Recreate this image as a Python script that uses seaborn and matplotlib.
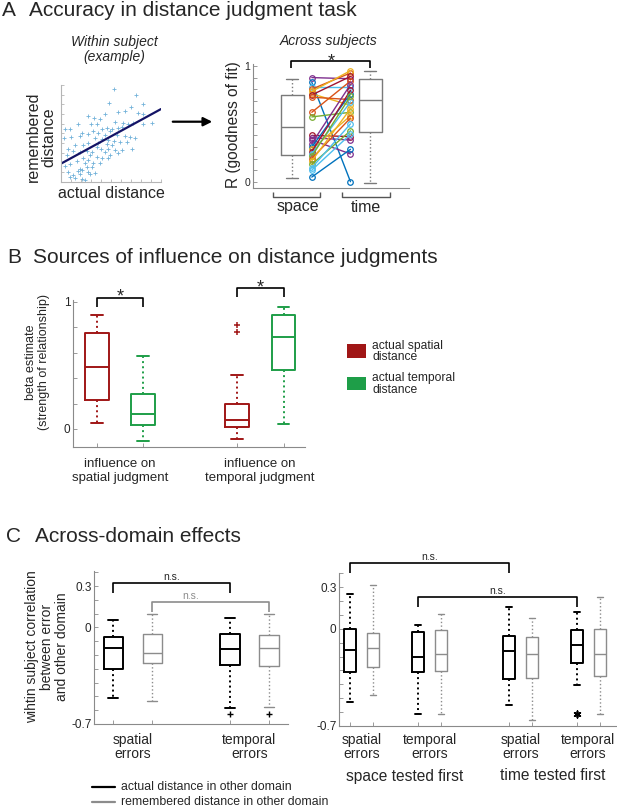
import numpy as np
import pandas as pd
import matplotlib
matplotlib.use("Agg")
import matplotlib.pyplot as plt
import seaborn as sns
from matplotlib.patches import Rectangle
from matplotlib.lines import Line2D
from matplotlib.colors import to_hex

# ---------------- data ----------------
# A, within subject example: actual vs remembered distance (one subject)
actual_dist = [5.3, 7.5, 4.8, 8.2, 7.0, 5.7, 6.4, 7.7, 8.2, 4.4, 2.7, 3.3,
               3.9, 5.4, 6.2, 6.7, 7.2, 9.1, 8.2, 1.7, 3.0, 3.6, 0.9, 0.4,
               4.6, 5.1, 5.7, 6.1, 4.1, 3.2, 2.1, 2.7, 3.7, 4.4, 4.9, 5.6,
               6.4, 6.9, 7.4, 0.3, 1.0, 1.9, 3.4, 4.1, 4.7, 5.3, 5.9, 6.6,
               3.7, 2.7, 1.4, 2.2, 4.6, 5.1, 3.6, 4.0, 4.7, 5.4, 6.1, 7.1,
               0.7, 1.2, 1.9, 2.6, 3.1, 4.4, 4.9, 5.7, 2.9, 3.6, 4.1, 4.7,
               0.6, 2.2, 2.7, 1.6, 3.2, 3.9, 2.4, 0.9, 0.4, 2.6, 1.9, 3.1,
               0.7, 1.2, 2.1, 2.7, 3.4, 1.7, 1.9, 2.9, 0.9, 1.4, 2.1, 2.4]
remembered_dist = [9.6, 9.0, 8.1, 8.0, 7.7, 7.2, 7.3, 7.1, 7.0, 7.0, 6.8, 6.6,
                   6.5, 6.2, 6.1, 6.0, 6.1, 6.1, 6.0, 6.0, 6.0, 6.0, 5.5, 5.4,
                   5.6, 5.4, 5.6, 5.7, 5.5, 5.2, 5.0, 4.9, 5.0, 4.8, 5.2, 4.8,
                   4.7, 4.6, 4.5, 4.5, 4.6, 4.7, 4.5, 4.4, 4.3, 4.2, 4.1, 4.1,
                   4.0, 4.0, 3.8, 3.8, 3.9, 3.8, 3.6, 3.4, 3.4, 3.3, 3.3, 3.4,
                   3.4, 3.2, 3.1, 3.2, 3.1, 3.1, 2.8, 3.0, 2.8, 2.6, 2.4, 2.4,
                   2.8, 2.4, 2.2, 2.1, 1.9, 1.9, 1.9, 1.8, 1.6, 1.5, 1.3, 1.5,
                   1.0, 0.7, 1.2, 1.0, 0.9, 1.1, 0.8, 0.8, 0.5, 0.4, 0.3, 0.2]

# A, across subjects: R per subject for space and time
r_space = [0.90, 0.86, 0.82, 0.80, 0.78, 0.76, 0.75, 0.73, 0.60, 0.56, 0.40, 0.38, 0.36,
           0.33, 0.30, 0.28, 0.26, 0.24, 0.22, 0.20, 0.18, 0.15, 0.12, 0.10, 0.04]
r_time = [0.89, 0.00, 0.82, 0.94, 0.96, 0.66, 0.91, 0.71, 0.87, 0.60, 0.39, 0.36, 0.24,
          0.84, 0.76, 0.57, 0.79, 0.69, 0.74, 0.55, 0.63, 0.44, 0.50, 0.41, 0.28]
subject_colors = ["#7E2F8E", "#0072BD", "#4DBEEE", "#D95319", "#EDB120", "#EDB120",
                  "#A2142F", "#D95319", "#D95319", "#77AC30", "#A2142F", "#7E2F8E",
                  "#7E2F8E", "#7E2F8E", "#0072BD", "#EDB120", "#A2142F", "#4DBEEE",
                  "#77AC30", "#D95319", "#EDB120", "#77AC30", "#4DBEEE", "#4DBEEE",
                  "#0072BD"]
# box summaries: [lower whisker, q1, median, q3, upper whisker]
r_box_space = [0.03, 0.23, 0.47, 0.75, 0.89]
r_box_time = [-0.01, 0.43, 0.71, 0.89, 0.96]

# B, beta estimates
beta_spatial_on_spatial = [0.045, 0.228, 0.49, 0.751, 0.893]
beta_temporal_on_spatial = [-0.092, 0.031, 0.115, 0.272, 0.571]
beta_spatial_on_temporal = [-0.079, 0.013, 0.068, 0.196, 0.421]
beta_temporal_on_temporal = [0.042, 0.461, 0.72, 0.893, 0.96]
beta_outliers_spatial_on_temporal = [0.814, 0.759]

# C left, across-domain correlations
c_spatial_actual = [-0.511, -0.298, -0.148, -0.07, 0.053]
c_spatial_remembered = [-0.535, -0.261, -0.184, -0.044, 0.097]
c_temporal_actual = [-0.586, -0.269, -0.155, -0.051, 0.07]
c_temporal_remembered = [-0.579, -0.278, -0.148, -0.058, 0.097]
c_outliers_temporal_actual = [-0.63]
c_outliers_temporal_remembered = [-0.625]

# C right, split by test order
c_sf_spatial_actual = [-0.53, -0.31, -0.151, -0.003, 0.248]
c_sf_spatial_remembered = [-0.477, -0.276, -0.135, -0.029, 0.318]
c_sf_temporal_actual = [-0.615, -0.309, -0.203, -0.02, 0.026]
c_sf_temporal_remembered = [-0.61, -0.303, -0.179, -0.012, 0.106]
c_tf_spatial_actual = [-0.548, -0.364, -0.162, -0.05, 0.156]
c_tf_spatial_remembered = [-0.655, -0.354, -0.179, -0.056, 0.077]
c_tf_temporal_actual = [-0.403, -0.248, -0.117, -0.008, 0.118]
c_tf_temporal_remembered = [-0.616, -0.34, -0.181, 0.0, 0.226]
c_outliers_tf_temporal_actual = [-0.615]

RED = "#a01616"
GREEN = "#1e9e48"
BOXGRAY = "#7a7a7a"
CGRAY = "#8c8c8c"
AXGRAY = "#8a8a8a"

W, H = 617, 807


def box_px(x0, y0, x1, y1):
    return [x0 / W, 1 - y1 / H, (x1 - x0) / W, (y1 - y0) / H]


def fpos(x, y):
    return x / W, 1 - y / H


def draw_boxes(ax, positions, boxes, groups, palette, width, lw=1.3):
    rows = [(p, v, g) for p, b, g in zip(positions, boxes, groups) for v in b]
    df = pd.DataFrame(rows, columns=["pos", "value", "group"])
    sns.boxplot(data=df, x="pos", y="value", hue="group", palette=palette,
                native_scale=True, orient="x", dodge=False, width=width,
                whis=(0, 100), fill=False, saturation=1, linewidth=lw,
                whiskerprops={"linestyle": ":"}, legend=False, ax=ax)


def style_axes(ax, labelsize=8):
    sns.despine(ax=ax)
    for s in ["left", "bottom"]:
        ax.spines[s].set_color(AXGRAY)
        ax.spines[s].set_linewidth(0.8)
    ax.tick_params(direction="in", length=3, width=0.6, color=AXGRAY,
                   labelsize=labelsize, pad=2)
    ax.set_xlabel("")
    ax.set_ylabel("")


def bracket(ax, x0, x1, y_hi, y_lo, color="black", lw=1.2):
    ax.plot([x0, x0, x1, x1], [y_lo, y_hi, y_hi, y_lo], color=color, lw=lw,
            clip_on=False, solid_capstyle="butt")


sns.set_style("ticks")
plt.rcParams["font.family"] = ["Liberation Sans", "DejaVu Sans"]

fig = plt.figure(figsize=(W / 100, H / 100), dpi=100)
fig.patch.set_facecolor("white")

# ---------------- panel A ----------------
fig.text(*fpos(2, 16), "A", fontsize=15, va="baseline")
fig.text(*fpos(29, 16), "Accuracy in distance judgment task", fontsize=15, va="baseline")

ax_sc = fig.add_axes(box_px(61, 85, 161, 181.7))
ax_sc.set_xlim(0, 10)
ax_sc.set_ylim(0, 10)
sns.regplot(x=actual_dist, y=remembered_dist, ax=ax_sc, ci=None, truncate=False,
            marker="+", color="#4f9fd0",
            scatter_kws={"s": 5, "linewidths": 0.6, "alpha": 0.8},
            line_kws={"color": "#141466", "linewidth": 1.6})
ax_sc.set_xlim(0, 10)
ax_sc.set_ylim(0, 10)
style_axes(ax_sc)
ax_sc.spines["left"].set_color("#b5b5b5")
ax_sc.spines["bottom"].set_color("#b5b5b5")
ax_sc.set_xticks(np.arange(0, 11, 1))
ax_sc.set_yticks(np.arange(0, 11, 1))
ax_sc.tick_params(length=2, color="#b5b5b5", labelbottom=False, labelleft=False)

fig.text(*fpos(114, 42), "Within subject", fontsize=10, style="italic", ha="center", va="center")
fig.text(*fpos(114, 57), "(example)", fontsize=10, style="italic", ha="center", va="center")
fig.text(*fpos(41.5, 136.7), "remembered\ndistance", fontsize=11.5, rotation=90,
         ha="center", va="center", linespacing=1.05)
fig.text(*fpos(111.5, 194), "actual distance", fontsize=11.5, ha="center", va="center")

ax_sc.annotate("", xy=fpos(215, 121.7), xytext=fpos(170, 121.7),
               xycoords="figure fraction", textcoords="figure fraction",
               arrowprops=dict(arrowstyle="-|>", color="black", lw=1.6, mutation_scale=13))

ax_r = fig.add_axes(box_px(253.3, 63.7, 409.3, 187.7))
draw_boxes(ax_r, [0, 1], [r_box_space, r_box_time], ["space", "time"],
           {"space": BOXGRAY, "time": BOXGRAY}, width=0.3, lw=1.0)
pairs = pd.DataFrame({
    "subject": [f"s{i:02d}" for i in range(len(r_space))] * 2,
    "x": [0.25] * len(r_space) + [0.746] * len(r_time),
    "value": r_space + r_time,
})
sns.lineplot(data=pairs, x="x", y="value", hue="subject",
             palette=dict(zip(pairs["subject"][:len(r_space)], subject_colors)),
             estimator=None, sort=False, marker="o", markersize=4,
             markerfacecolor="none", linewidth=1.0, legend=False, ax=ax_r)
for line in ax_r.lines[-len(r_space):]:
    line.set_markeredgecolor(line.get_color())
    line.set_markeredgewidth(0.9)
ax_r.set_xlim(-0.5, 1.5)
ax_r.set_ylim(-0.052, 1.02)
style_axes(ax_r, labelsize=7.5)
ax_r.set_xticks([])
ax_r.set_yticks(np.round(np.arange(0, 1.01, 0.1), 1))
ax_r.set_yticklabels(["0"] + [""] * 9 + ["1"])
bracket(ax_r, -0.02, 1.0, 1.046, 0.98)
ax_r.text(0.5, 0.998, "*", fontsize=13, ha="center", va="baseline")
bracket(ax_r, -0.246, 0.353, -0.135, -0.086, color="#555555", lw=1.0)
bracket(ax_r, 0.631, 1.25, -0.135, -0.086, color="#555555", lw=1.0)
fig.text(*fpos(329, 41), "Across subjects", fontsize=10, style="italic", ha="center", va="center")
fig.text(*fpos(233.3, 125), "R (goodness of fit)", fontsize=11.2, rotation=90,
         ha="center", va="center")
fig.text(*fpos(298.3, 207), "space", fontsize=11.5, ha="center", va="center")
fig.text(*fpos(366, 208), "time", fontsize=11.5, ha="center", va="center")

# ---------------- panel B ----------------
fig.text(*fpos(7, 263.3), "B", fontsize=15, va="baseline")
fig.text(*fpos(33.3, 263.3), "Sources of influence on distance judgments", fontsize=15,
         va="baseline")

ax_b = fig.add_axes(box_px(73, 299.8, 305, 447.3))
draw_boxes(ax_b, [0, 1, 3, 4],
           [beta_spatial_on_spatial, beta_temporal_on_spatial,
            beta_spatial_on_temporal, beta_temporal_on_temporal],
           ["spatial", "temporal", "spatial", "temporal"],
           {"spatial": RED, "temporal": GREEN}, width=0.51, lw=1.4)
sns.scatterplot(x=[3] * len(beta_outliers_spatial_on_temporal),
                y=beta_outliers_spatial_on_temporal, marker="+", color=RED,
                s=18, linewidth=1.1, ax=ax_b)
ax_b.set_xlim(-0.507, 4.46)
ax_b.set_ylim(-0.144, 1.015)
style_axes(ax_b, labelsize=8.5)
ax_b.set_xticks([0, 1, 3, 4])
ax_b.set_xticklabels([])
ax_b.set_yticks(np.round(np.arange(0, 1.01, 0.2), 1))
ax_b.set_yticklabels(["0", "", "", "", "", "1"])
bracket(ax_b, 0, 1, 1.031, 0.961)
ax_b.text(0.5, 0.998, "*", fontsize=13, ha="center", va="baseline")
bracket(ax_b, 3, 4, 1.105, 1.035)
ax_b.text(3.5, 1.074, "*", fontsize=13, ha="center", va="baseline")

fig.text(*fpos(37.5, 362), "beta estimate\n(strength of relationship)", fontsize=9,
         rotation=90, ha="center", va="center", linespacing=1.2)
fig.text(*fpos(120, 471), "influence on\nspatial judgment", fontsize=9.5,
         ha="center", va="center", linespacing=1.2)
fig.text(*fpos(260, 471), "influence on\ntemporal judgment", fontsize=9.5,
         ha="center", va="center", linespacing=1.2)

fig.add_artist(Rectangle(fpos(347, 358), 19 / W, 14 / H, transform=fig.transFigure,
                         facecolor=RED, edgecolor="none"))
fig.add_artist(Rectangle(fpos(347, 390), 19 / W, 13 / H, transform=fig.transFigure,
                         facecolor=GREEN, edgecolor="none"))
fig.text(*fpos(372, 351.5), "actual spatial\ndistance", fontsize=8.7, va="center",
         linespacing=1.0)
fig.text(*fpos(372, 383.5), "actual temporal\ndistance", fontsize=8.7, va="center",
         linespacing=1.0)

# ---------------- panel C ----------------
fig.text(*fpos(6, 541.7), "C", fontsize=15, va="baseline")
fig.text(*fpos(35, 541.7), "Across-domain effects", fontsize=15, va="baseline")

c_palette = {"actual": "black", "remembered": CGRAY}

ax_cl = fig.add_axes(box_px(94.3, 570.9, 288.3, 724))
draw_boxes(ax_cl, [0, 1, 3, 4],
           [c_spatial_actual, c_spatial_remembered, c_temporal_actual, c_temporal_remembered],
           ["actual", "remembered", "actual", "remembered"], c_palette, width=0.5, lw=1.4)
sns.scatterplot(x=[3] * len(c_outliers_temporal_actual), y=c_outliers_temporal_actual,
                marker="+", color="black", s=14, linewidth=1.0, ax=ax_cl)
sns.scatterplot(x=[4] * len(c_outliers_temporal_remembered), y=c_outliers_temporal_remembered,
                marker="+", color="black", s=14, linewidth=1.0, ax=ax_cl)

ax_cr = fig.add_axes(box_px(339.3, 573.3, 617, 726))
draw_boxes(ax_cr, [0, 1, 3, 4, 7, 8, 10, 11],
           [c_sf_spatial_actual, c_sf_spatial_remembered,
            c_sf_temporal_actual, c_sf_temporal_remembered,
            c_tf_spatial_actual, c_tf_spatial_remembered,
            c_tf_temporal_actual, c_tf_temporal_remembered],
           ["actual", "remembered"] * 4, c_palette, width=0.53, lw=1.4)
sns.scatterplot(x=[10] * len(c_outliers_tf_temporal_actual), y=c_outliers_tf_temporal_actual,
                marker=(6, 2, 0), color="black", s=22, linewidth=1.2, ax=ax_cr)

for ax in (ax_cl, ax_cr):
    for line in ax.lines:
        if to_hex(line.get_color()) == CGRAY:
            line.set_linewidth(1.0)

ax_cl.set_xlim(-0.49, 4.5)
ax_cl.set_ylim(-0.7, 0.41)
ax_cr.set_xlim(-0.47, 11.76)
ax_cr.set_ylim(-0.7, 0.4)
yt = np.round(np.arange(-0.7, 0.41, 0.1), 1)
ylabels = ["-0.7" if v == -0.7 else "0" if v == 0 else "0.3" if v == 0.3 else "" for v in yt]
for ax, xt in ((ax_cl, [0, 1, 3, 4]), (ax_cr, [0, 1, 3, 4, 7, 8, 10, 11])):
    style_axes(ax, labelsize=8.5)
    ax.set_xticks(xt)
    ax.set_xticklabels([])
    ax.set_yticks(yt)
    ax.set_yticklabels(ylabels)

bracket(ax_cl, 0, 3, 0.32, 0.247)
ax_cl.text(1.5, 0.364, "n.s.", fontsize=7.5, ha="center", va="center")
bracket(ax_cl, 1, 4, 0.186, 0.114, color=CGRAY)
ax_cl.text(2.0, 0.228, "n.s.", fontsize=7.5, ha="center", va="center", color=CGRAY)
bracket(ax_cr, 0, 7, 0.472, 0.40)
ax_cr.text(3.5, 0.515, "n.s.", fontsize=7.5, ha="center", va="center")
bracket(ax_cr, 3, 10, 0.231, 0.159)
ax_cr.text(6.5, 0.272, "n.s.", fontsize=7.5, ha="center", va="center")

fig.text(*fpos(46.7, 646.7), "wihtin subject correlation\nbetween error\nand other domain",
         fontsize=10, rotation=90, ha="center", va="center", linespacing=1.08)

for x, lab in [(132.7, "spatial\nerrors"), (249.2, "temporal\nerrors"),
               (361.7, "spatial\nerrors"), (429.5, "temporal\nerrors"),
               (520.5, "spatial\nerrors"), (587.7, "temporal\nerrors")]:
    fig.text(*fpos(x, 747), lab, fontsize=10, ha="center", va="center", linespacing=1.05)
fig.text(*fpos(404.8, 776), "space tested first", fontsize=11.2, ha="center", va="center")
fig.text(*fpos(553, 776), "time tested first", fontsize=11.2, ha="center", va="center")

for y, col, lab in [(787.3, "black", "actual distance in other domain"),
                    (802.3, CGRAY, "remembered distance in other domain")]:
    x0, y0 = fpos(91.7, y)
    x1, _ = fpos(115, y)
    fig.add_artist(Line2D([x0, x1], [y0, y0], color=col, lw=1.6,
                          transform=fig.transFigure))
    fig.text(*fpos(120.7, y), lab, fontsize=8.8, va="center")

fig.savefig("out.png", dpi=100, facecolor="white")
